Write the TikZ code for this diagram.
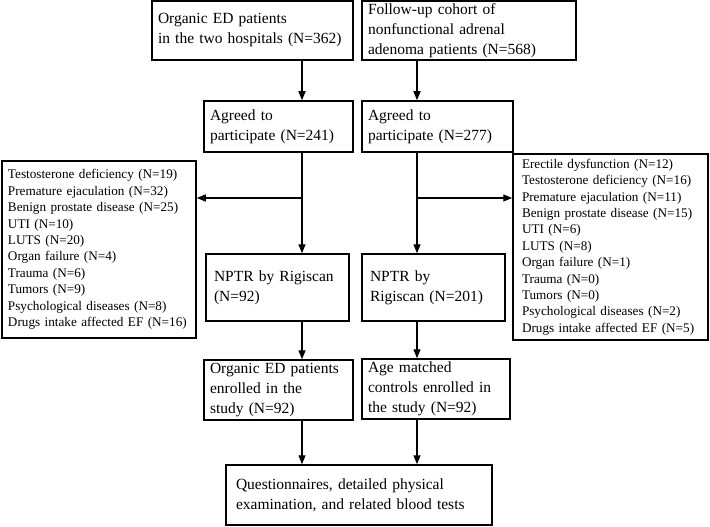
\documentclass[tikz,border=0pt]{standalone}
\usepackage{fontspec}
\setmainfont{Liberation Serif}
\usetikzlibrary{arrows.meta}
\begin{document}
\begin{tikzpicture}[x=1pt,y=-1pt,
  box/.style={draw, line width=1.5pt, inner xsep=6pt, inner ysep=0pt, align=left,
    font=\fontsize{15.5}{20}\selectfont},
  listbox/.style={draw, line width=1.5pt, inner xsep=6pt, inner ysep=0pt, align=left,
    font=\fontsize{13.2}{16.4}\selectfont},
  arr/.style={line width=1.4pt, -{Triangle[length=9pt,width=7pt]}}]
\useasboundingbox (0,0) rectangle (710,527);

\node[box, minimum width=201, minimum height=59, text width=189] (b1) at (252.5,30.5)
  {Organic ED patients\\in the two hospitals (N=362)};
\node[box, minimum width=214, minimum height=59, text width=202] (b2) at (469,30.5)
  {Follow-up cohort of\\nonfunctional adrenal\\adenoma patients (N=568)};
\node[box, minimum width=149, minimum height=51, text width=137] (a1) at (278.5,126.5)
  {Agreed to\\participate (N=241)};
\node[box, minimum width=151, minimum height=51, text width=139] (a2) at (437.5,126.5)
  {Agreed to\\participate (N=277)};
\node[box, minimum width=143, minimum height=67, text width=127, inner xsep=8pt] (n1) at (277.5,287.5)
  {NPTR by Rigiscan\\(N=92)};
\node[box, minimum width=143, minimum height=67, text width=127, inner xsep=8pt] (n2) at (433.5,287.5)
  {NPTR by\\Rigiscan (N=201)};
\node[box, minimum width=149, minimum height=60, text width=137] (e1) at (278.5,390)
  {Organic ED patients\\enrolled in the\\study (N=92)};
\node[box, minimum width=148, minimum height=60, text width=136] (e2) at (436,389)
  {Age matched\\controls enrolled in\\the study (N=92)};
\node[box, minimum width=266, minimum height=60, text width=246, inner xsep=10pt] (q) at (359,495)
  {Questionnaires, detailed physical\\examination, and related blood tests};

\node[listbox, minimum width=194, minimum height=177, text width=182, inner xsep=6pt] (ll) at (99,249.5)
  {Testosterone deficiency (N=19)\\
   Premature ejaculation (N=32)\\
   Benign prostate disease (N=25)\\
   UTI (N=10)\\
   LUTS (N=20)\\
   Organ failure (N=4)\\
   Trauma (N=6)\\
   Tumors (N=9)\\
   Psychological diseases (N=8)\\
   Drugs intake affected EF (N=16)};
\node[listbox, minimum width=195, minimum height=186, text width=177, inner xsep=9pt] (rl) at (610.5,247)
  {Erectile dysfunction (N=12)\\
   Testosterone deficiency (N=16)\\
   Premature ejaculation (N=11)\\
   Benign prostate disease (N=15)\\
   UTI (N=6)\\
   LUTS (N=8)\\
   Organ failure (N=1)\\
   Trauma (N=0)\\
   Tumors (N=0)\\
   Psychological diseases (N=2)\\
   Drugs intake affected EF (N=5)};

\coordinate (cl) at (302,0);
\coordinate (cr) at (417,0);
\coordinate (jl) at (302,198);
\coordinate (jr) at (417,198);

\draw[arr] (b1.south -| cl) -- (a1.north -| cl);
\draw[arr] (b2.south -| cr) -- (a2.north -| cr);
\draw[arr] (a1.south -| cl) -- (n1.north -| cl);
\draw[arr] (a2.south -| cr) -- (n2.north -| cr);
\draw[arr] (jl) -- (ll.east |- jl);
\draw[arr] (jr) -- (rl.west |- jr);
\draw[arr] (n1.south -| cl) -- (e1.north -| cl);
\draw[arr] (n2.south -| cr) -- (e2.north -| cr);
\draw[arr] (e1.south -| cl) -- (q.north -| cl);
\draw[arr] (e2.south -| cr) -- (q.north -| cr);
\end{tikzpicture}
\end{document}
